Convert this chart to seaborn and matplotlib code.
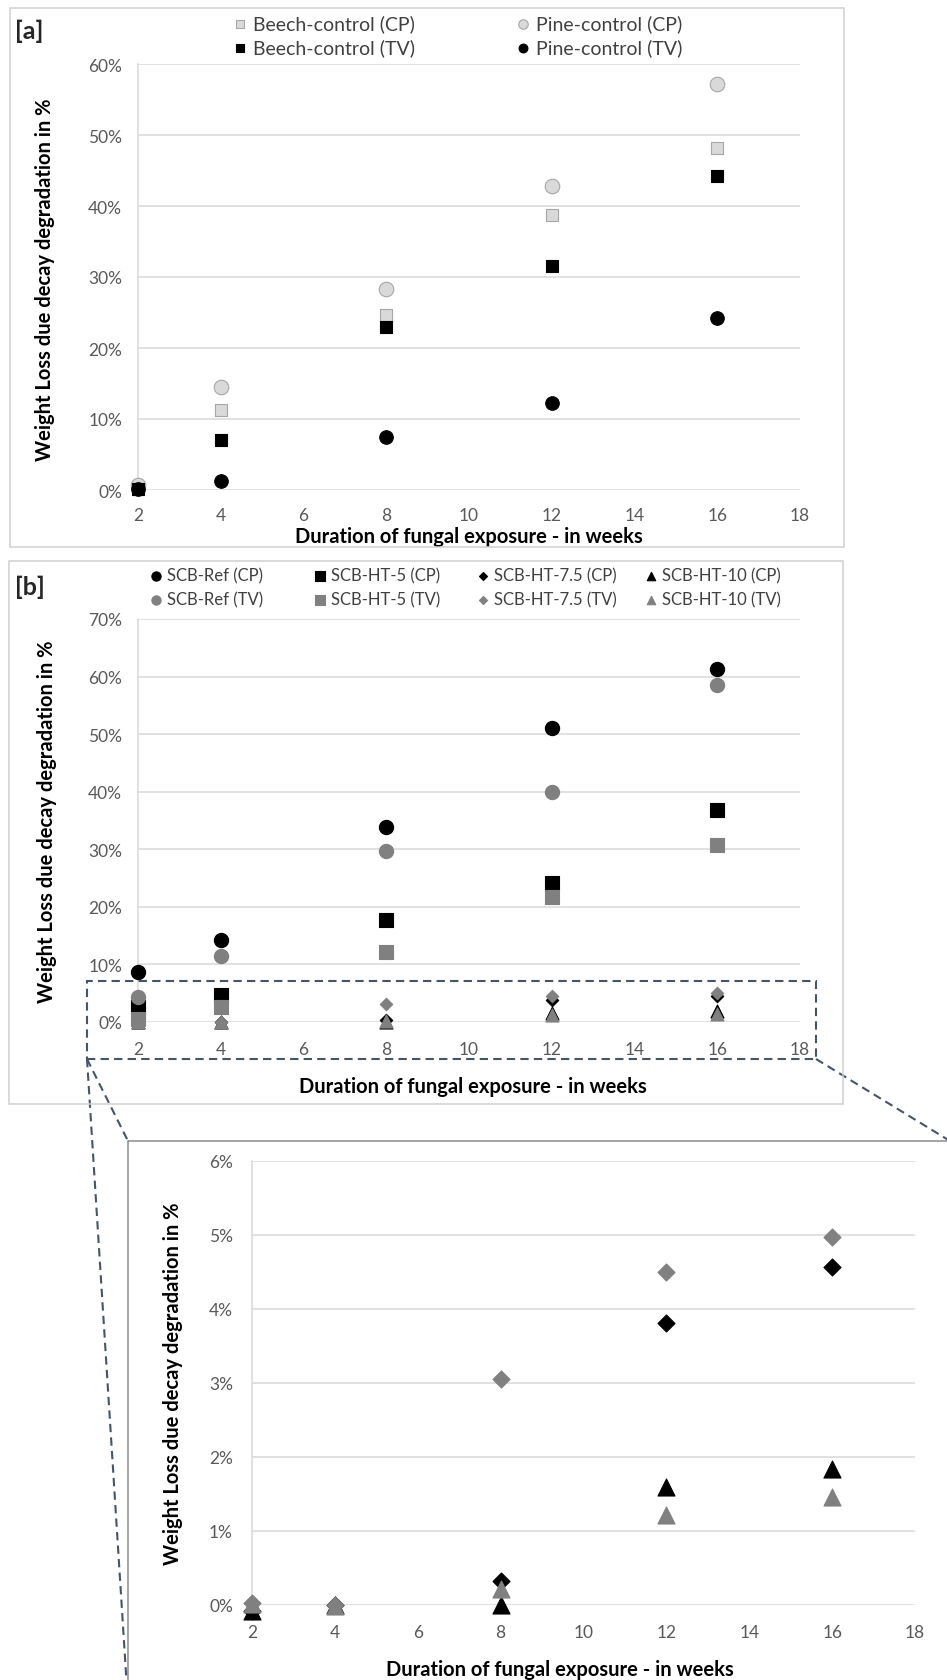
import matplotlib.pyplot as plt
import seaborn as sns
from matplotlib.lines import Line2D
from matplotlib.patches import Rectangle
from matplotlib.ticker import PercentFormatter, MultipleLocator

# ==========================================
# DATA (weight loss as fraction)
# ==========================================
weeks = [2, 4, 8, 12, 16]

# panel [a] - controls
beech_cp = [0.002, 0.112, 0.246, 0.387, 0.482]
pine_cp = [0.007, 0.145, 0.283, 0.428, 0.572]
beech_tv = [0.001, 0.070, 0.230, 0.315, 0.442]
pine_tv = [0.001, 0.012, 0.075, 0.123, 0.242]
labels_a = ['Beech-control (CP)', 'Pine-control (CP)', 'Beech-control (TV)', 'Pine-control (TV)']

# panel [b] and zoom
ref_cp = [0.087, 0.142, 0.338, 0.510, 0.613]
ref_tv = [0.044, 0.115, 0.297, 0.400, 0.585]
ht5_cp = [0.026, 0.047, 0.177, 0.241, 0.368]
ht5_tv = [0.005, 0.026, 0.122, 0.217, 0.307]
ht75_cp = [-0.0008, 0.0, 0.0032, 0.0381, 0.0457]
ht75_tv = [0.0003, 0.0, 0.0305, 0.0450, 0.0497]
ht10_cp = [-0.0008, 0.0, 0.0, 0.0160, 0.0184]
ht10_tv = [0.0002, -0.0002, 0.0022, 0.0121, 0.0146]
labels_b = ['SCB-Ref (CP)', 'SCB-HT-5 (CP)', 'SCB-HT-7.5 (CP)', 'SCB-HT-10 (CP)',
            'SCB-Ref (TV)', 'SCB-HT-5 (TV)', 'SCB-HT-7.5 (TV)', 'SCB-HT-10 (TV)']

x_title = 'Duration of fungal exposure - in weeks'
y_title = 'Weight Loss due decay degradation in %'

# ==========================================
# STYLE
# ==========================================
sns.set_theme(style="white")
plt.rcParams['font.family'] = ['Lato', 'DejaVu Sans']

W, H = 947, 1681
GRID = '#D9D9D9'
TICK = '#595959'
GREY = '#808080'
LIGHT = '#D9D9D9'
DASH = '#44546A'


def fx(px):
    return px / W


def fy(py):
    return 1 - py / H


def style_axis(ax, ymax, ystep, pad_x, pad_y):
    ax.set_xlim(2, 18)
    ax.set_xticks(range(2, 19, 2))
    ax.set_ylim(0, ymax)
    ax.yaxis.set_major_locator(MultipleLocator(ystep))
    ax.yaxis.set_major_formatter(PercentFormatter(xmax=1, decimals=0))
    ax.grid(False)
    ax.yaxis.grid(True, color=GRID, lw=1.1)
    ax.set_axisbelow(True)
    for side in ['top', 'right', 'bottom']:
        ax.spines[side].set_visible(False)
    ax.spines['left'].set_color(GRID)
    ax.spines['left'].set_linewidth(1.1)
    ax.tick_params(axis='x', length=0, pad=pad_x, labelsize=12.5, labelcolor=TICK)
    ax.tick_params(axis='y', length=0, pad=pad_y, labelsize=12.5, labelcolor=TICK)
    ax.set_xlabel('')
    ax.set_ylabel('')


def dots(ax, y, marker, fc, ec, s, label):
    sns.scatterplot(x=weeks, y=y, marker=marker, color=fc, edgecolor=ec, linewidth=0.8,
                    s=s, ax=ax, label=label, legend=False, clip_on=False, zorder=3)


fig = plt.figure(figsize=(W / 100, H / 100), dpi=100)
fig.patch.set_facecolor('white')

# ==========================================
# [a] CONTROLS
# ==========================================
ax_a = fig.add_axes([fx(138), fy(491), (800 - 138) / W, (491 - 65) / H])
dots(ax_a, beech_cp, 's', LIGHT, '#A6A6A6', 85, labels_a[0])
dots(ax_a, pine_cp, 'o', LIGHT, '#A6A6A6', 110, labels_a[1])
dots(ax_a, beech_tv, 's', 'black', 'black', 85, labels_a[2])
dots(ax_a, pine_tv, 'o', 'black', 'black', 95, labels_a[3])
style_axis(ax_a, 0.6, 0.1, 12.3, 11.5)

# ==========================================
# [b] SCB PANELS
# ==========================================
ax_b = fig.add_axes([fx(138), fy(1023), (800 - 138) / W, (1023 - 620) / H])
series_b = [(ref_cp, 'o', 'black', 105), (ht5_cp, 's', 'black', 100),
            (ht75_cp, 'D', 'black', 40), (ht10_cp, '^', 'black', 88),
            (ref_tv, 'o', GREY, 105), (ht5_tv, 's', GREY, 100),
            (ht75_tv, 'D', GREY, 40), (ht10_tv, '^', GREY, 88)]
for (vals, mk, col, size), lab in zip(series_b, labels_b):
    dots(ax_b, vals, mk, col, col, size, lab)
style_axis(ax_b, 0.7, 0.1, 13.7, 11.5)

# zoom on the low values
ax_c = fig.add_axes([fx(252), fy(1606), (915 - 252) / W, (1606 - 1162) / H])
series_c = [(ht75_cp, 'D', 'black', 75), (ht10_cp, '^', 'black', 150),
            (ht75_tv, 'D', GREY, 75), (ht10_tv, '^', GREY, 150)]
for vals, mk, col, size in series_c:
    dots(ax_c, vals, mk, col, col, size, None)
style_axis(ax_c, 0.06, 0.01, 13.7, 13.7)

# ==========================================
# TITLES AND LEGENDS
# ==========================================
title_font = dict(fontsize=14.5, fontweight='bold', color='black')
fig.text(fx(469), fy(537), x_title, ha='center', va='center', **title_font)
fig.text(fx(45), fy(280), y_title, ha='center', va='center', rotation=90, **title_font)
fig.text(fx(473), fy(1087), x_title, ha='center', va='center', **title_font)
fig.text(fx(47), fy(822), y_title, ha='center', va='center', rotation=90, **title_font)
fig.text(fx(560), fy(1670), x_title, ha='center', va='center', **title_font)
fig.text(fx(173), fy(1384), y_title, ha='center', va='center', rotation=90, **title_font)

fig.text(fx(15), fy(31), '[a]', ha='left', va='center', fontsize=18, fontweight='bold')
fig.text(fx(15), fy(587), '[b]', ha='left', va='center', fontsize=18, fontweight='bold')


def column_legend(ax, idx, x0, y0, fs, pad, spacing):
    h, l = ax.get_legend_handles_labels()
    fig.legend([h[i] for i in idx], [l[i] for i in idx], loc='upper left',
               bbox_to_anchor=(fx(x0), fy(y0)), frameon=False, borderpad=0,
               borderaxespad=0, handlelength=0.6, handletextpad=pad,
               labelspacing=spacing, markerscale=0.65, fontsize=fs,
               labelcolor='#404040')


column_legend(ax_a, [0, 2], 234, 15, 14, 0.37, 0.34)
column_legend(ax_a, [1, 3], 517, 15, 14, 0.37, 0.34)
for col, x0 in enumerate([151, 315, 478, 646]):
    column_legend(ax_b, [col, col + 4], x0, 568, 12, 0.33, 0.5)

# ==========================================
# FRAMES AND ZOOM CONNECTORS
# ==========================================
def box(x0, y0, x1, y1, color, lw, ls='-'):
    fig.patches.append(Rectangle((fx(x0), fy(y1)), fx(x1) - fx(x0), fy(y0) - fy(y1),
                                 transform=fig.transFigure, fill=False, ec=color,
                                 lw=lw, ls=ls, zorder=5))


def seg(p0, p1, color, lw, ls='-'):
    fig.lines.append(Line2D([fx(p0[0]), fx(p1[0])], [fy(p0[1]), fy(p1[1])],
                            transform=fig.transFigure, color=color, lw=lw, ls=ls, zorder=5))


box(10, 9, 844, 548, '#D0D0D0', 1.1)
box(9, 562, 843, 1105, '#D0D0D0', 1.1)
seg((128, 1142), (950, 1142), '#8C8C8C', 1.1)
seg((128, 1142), (128, 1690), '#8C8C8C', 1.1)

dash = (0, (4, 2.5))
box(87, 982, 816, 1060, DASH, 1.5, dash)
seg((87, 1060), (128, 1142), DASH, 1.5, dash)
seg((87, 1060), (127, 1690), DASH, 1.5, dash)
seg((816, 1060), (950, 1142), DASH, 1.5, dash)

fig.savefig('out.png', dpi=100, facecolor='white')
